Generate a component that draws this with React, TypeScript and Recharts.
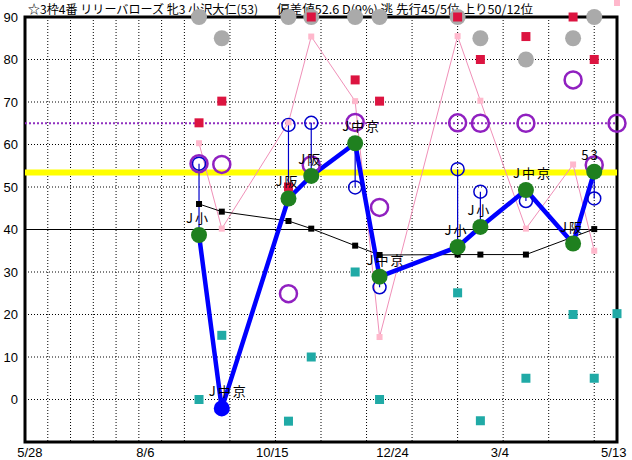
import React from 'react'
import {
  ComposedChart, Line, Scatter, XAxis, YAxis, CartesianGrid,
  ReferenceLine, ReferenceArea, ErrorBar, LabelList,
} from 'recharts'

if (typeof document !== 'undefined') document.body.style.margin = '0'

// days counted from 5/28
const raceDays = [107, 121, 162, 176, 203, 218, 266, 280, 308, 337, 350, 364]
const runIndex = [38.7, -2.1, 47.3, 52.6, 60.3, 28.9, 35.9, 40.6, 49.3, 36.7, 53.6, null]
const runLabels = ['J小', 'J中京', 'J阪', 'J阪', 'J中京', 'J中京', 'J小', 'J小', 'J中京', 'J阪', '53', '']
const runMarker = ['g', 'b', 'g', 'g', 'g', 'g', 'g', 'g', 'g', 'g', 'g', 'g']
const avgIndex = [46, 44.2, 42, 40.2, 36.2, 34, 34.1, 34.1, 34.1, null, 40.1, null]
const paceIndex = [60.3, 40.2, 65.2, 85.4, 70.2, 14.7, 85.5, 70.3, 40.2, 55.3, 35, null]
const lastIndex = [55.5, null, 64.6, 65.1, 49.9, 26.4, 54.2, 48.9, 46.7, null, 47.3, null]
const markIndex = [55.5, 55.3, 24.9, 55.2, 65.2, 45.2, 65.1, 65, 65, 75.2, 55.2, 65]
const redIndex = [65.1, 70.2, 50, 90, 75.2, 70.2, 90, 80, 85.4, 90, 80, null]
const tealIndex = [0, 15.1, -5.1, 10, 30, 0, 25.1, -5, 5, 20, 5, 20.2]
const grayIndex = [90, 85, 90, 90, 90, 90, 90, 85, 80, 85, 90, null]

const gridDays = [14, 28, 42, 56, 70, 84, 98, 112, 126, 140, 154, 168, 182, 196, 210, 224, 238, 252, 266, 280, 294, 308, 322, 336, 350]
const yTicks = [0, 10, 20, 30, 40, 50, 60, 70, 80, 90]
const dateTicks = [3, 74, 152, 226, 292, 362]
const dateLabels = ['5/28', '8/6', '10/15', '12/24', '3/4', '5/13']

const titleLeft = '☆3枠4番 リリーバローズ 牝3 小沢大仁(53)'
const titleRight = '偏差値52.6 D(9%) 逃 先行45/5位 上り50/12位'
const avgLevel = 53.4
const markLevel = 65
const baseLevel = 40

const rows = raceDays.map((day, i) => ({
  day, run: runIndex[i], avg: avgIndex[i], pace: paceIndex[i], label: runLabels[i], kind: runMarker[i],
}))
const pointsOf = (vals: (number | null)[]) =>
  raceDays.map((day, i) => ({ day, v: vals[i], run: runIndex[i] })).filter(p => p.v != null)

const square = (s: number, color: string) => (p: any) =>
  <rect x={p.cx - s / 2} y={p.cy - s / 2} width={s} height={s} fill={color} />
const disc = (r: number, color: string) => (p: any) =>
  <circle cx={p.cx} cy={p.cy} r={r} fill={color} />
const ring = (r: number, color: string, w: number) => (p: any) =>
  <circle cx={p.cx} cy={p.cy} r={r} fill="none" stroke={color} strokeWidth={w} />

const FONT = '"Liberation Sans", Arial, sans-serif'
const JP = '"Noto Sans CJK JP", sans-serif'

export default function App() {
  return (
    <div style={{ position: 'relative', width: 632, height: 460, background: '#fff' }}>
      <svg width={632} height={22} style={{ position: 'absolute', left: 0, top: 0 }}>
        <text x={28} y={14} fontFamily={JP} fontSize={12} textLength={230} lengthAdjust="spacingAndGlyphs">{titleLeft}</text>
        <text x={277} y={14} fontFamily={JP} fontSize={12} textLength={256} lengthAdjust="spacingAndGlyphs">{titleRight}</text>
      </svg>
      <div style={{ position: 'absolute', left: 0, top: 0 }}>
        <ComposedChart width={632} height={460} data={rows} margin={{ top: 17, right: 15, left: 0, bottom: 0 }}>
          <XAxis xAxisId="grid" type="number" dataKey="day" domain={[0, 364]} ticks={gridDays} hide />
          <CartesianGrid xAxisId="grid" stroke="#000" strokeDasharray="1 2" />
          <XAxis type="number" dataKey="day" domain={[0, 364]} ticks={dateTicks} interval={0}
            tickFormatter={(v) => dateLabels[dateTicks.indexOf(v)]} height={18}
            axisLine={false} tickLine={false} tickSize={4} tickMargin={2}
            tick={{ fill: '#000', fontSize: 13, fontFamily: FONT }} />
          <YAxis type="number" domain={[-10, 90]} ticks={yTicks} width={25} interval={0}
            axisLine={false} tickLine={false} tickSize={5} tickMargin={2}
            tick={{ fill: '#000', fontSize: 13, fontFamily: FONT }} />
          <ReferenceLine y={baseLevel} stroke="#000" strokeWidth={1} />
          <ReferenceLine y={markLevel} stroke="#9030c0" strokeWidth={2} strokeDasharray="2 2" />
          <ReferenceLine y={avgLevel} stroke="#ffff00" strokeWidth={6} />
          <ReferenceArea x1={0} x2={364} y1={-10} y2={90} fill="none" stroke="#000" strokeWidth={3} />

          <Scatter data={pointsOf(grayIndex)} dataKey="v" shape={disc(8, '#aaaaaa')} isAnimationActive={false} />
          <Scatter data={pointsOf(redIndex)} dataKey="v" shape={square(9, '#dc1440')} isAnimationActive={false} />
          <Scatter data={pointsOf(tealIndex)} dataKey="v" shape={square(9, '#20aaa6')} isAnimationActive={false} />

          <Line dataKey="pace" stroke="#f090b8" strokeWidth={1} isAnimationActive={false}
            dot={(p: any) => <rect key={`p${p.index}`} x={p.cx - 3} y={p.cy - 3} width={6} height={6} fill="#ffb8cc" />} />
          <Line dataKey="avg" stroke="#000" strokeWidth={1} connectNulls isAnimationActive={false}
            dot={(p: any) => p.value == null ? <g key={`a${p.index}`} /> :
              <rect key={`a${p.index}`} x={p.cx - 3} y={p.cy - 3} width={6} height={6} fill="#000" />} />

          <Scatter data={pointsOf(markIndex)} dataKey="v" shape={ring(8.5, '#9020c0', 2.5)} isAnimationActive={false} />
          <Scatter data={pointsOf(lastIndex)} dataKey="v" shape={ring(6.5, '#0000cc', 1.5)} isAnimationActive={false}>
            <ErrorBar direction="y" width={0} stroke="#0000cc" strokeWidth={1.2}
              dataKey={(p: any) => (p.v > p.run ? [p.v - p.run, 0] : [0, p.run - p.v])} />
          </Scatter>

          <Line dataKey="run" stroke="#0000ff" strokeWidth={4.5} isAnimationActive={false}
            dot={(p: any) => p.value == null ? <g key={`r${p.index}`} /> :
              <circle key={`r${p.index}`} cx={p.cx} cy={p.cy} r={8}
                fill={p.payload.kind === 'b' ? '#0000ff' : '#1f801f'} />}>
            <LabelList dataKey="label" content={(p: any) => p.value ?
              <text x={p.x - 13} y={p.y - 12} fontSize={13} fontFamily={JP} letterSpacing={2} fill="#000">{p.value}</text> : null} />
          </Line>
        </ComposedChart>
      </div>
    </div>
  )
}
